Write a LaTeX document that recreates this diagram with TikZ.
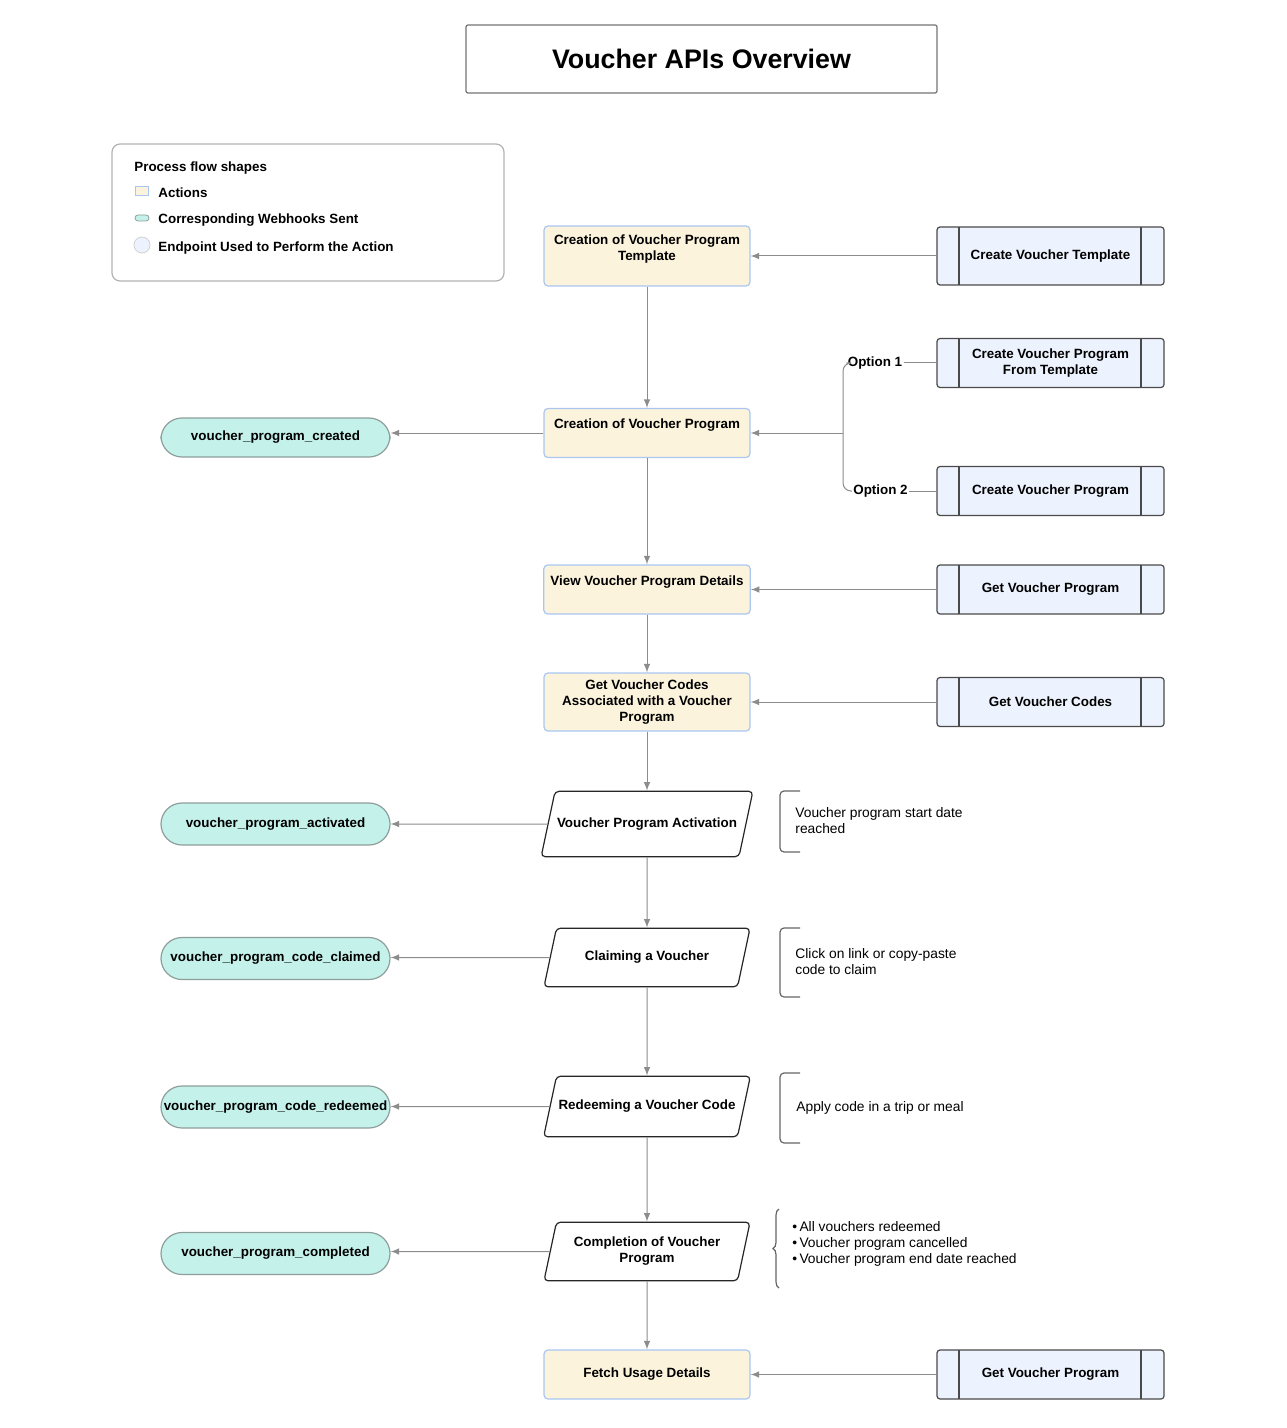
\documentclass[tikz,border=0pt]{standalone}
\usepackage{fontspec}
\setmainfont{Liberation Sans}
\usepackage{tikz}
\tikzset{>=latex}
\usetikzlibrary{shapes.geometric, decorations.pathreplacing}
\definecolor{actionfill}{HTML}{FBF3DC}
\definecolor{actionline}{HTML}{A9C7F2}
\definecolor{hookfill}{HTML}{C4F1EA}
\definecolor{hookline}{HTML}{8E9E9B}
\definecolor{epfill}{HTML}{EDF3FE}
\definecolor{epline}{HTML}{4A4A4A}
\definecolor{wire}{HTML}{8C8C8C}
\newcommand{\boxfont}{\fontsize{6.7}{8}\selectfont\bfseries}
\newcommand{\notefont}{\fontsize{6.9}{8}\selectfont}
\tikzset{
	action/.style = {draw=actionline, fill=actionfill, line width=0.6, rounded corners=2pt, minimum width=103pt, minimum height=24.5pt, align=center, font=\boxfont},
	event/.style = {draw=black!85, fill=white, line width=0.6, trapezium, trapezium left angle=78, trapezium right angle=102, trapezium stretches body=true, rounded corners=2pt, minimum width=103pt, inner xsep=1pt, inner ysep=11.5pt, align=center, font=\boxfont},
	webhook/.style = {draw=hookline, fill=hookfill, line width=0.6, rounded corners=10.5pt, minimum width=114.5pt, minimum height=21pt, inner xsep=1pt, font=\boxfont},
	endpoint/.style = {draw=epline, fill=epfill, line width=0.6, rounded corners=1.5pt, minimum width=113.5pt, minimum height=24.5pt, align=center, font=\boxfont,
		path picture={\draw[epline, line width=0.6] ([xshift=11pt]path picture bounding box.north west) -- ([xshift=11pt]path picture bounding box.south west) ([xshift=-11.5pt]path picture bounding box.north east) -- ([xshift=-11.5pt]path picture bounding box.south east);}},
	wire/.style = {draw=wire, line width=0.5},
	bracket/.style = {draw=black!60, line width=0.6, rounded corners=2pt},
	curly/.style = {draw=black!60, line width=0.6, decorate, decoration={brace, amplitude=3pt}},
	note/.style = {anchor=west, align=left, font=\notefont, inner sep=0pt}
}

\begin{document}
\begin{tikzpicture}[x=0.5pt, y=-0.5pt]
		\useasboundingbox (0,0) rectangle (1286,1428);

		% Title
		\node[draw=black!55, line width=0.6, rounded corners=1pt, minimum width=235.5pt, minimum height=34pt, font=\fontsize{13.4}{16}\selectfont\bfseries] (title) at (701.5,59) {Voucher APIs Overview};

		% Legend
		\draw[black!30, line width=0.6, rounded corners=4pt] (112,144) rectangle (504,281);
		\node[anchor=west, inner sep=0pt, font=\boxfont] (legendhead) at (134,168) {Process flow shapes};
		\draw[actionline, fill=actionfill, line width=0.4] (135,186) rectangle (148,195);
		\draw[hookline, fill=hookfill, line width=0.4, rounded corners=1.5pt] (135,215) rectangle (149,221);
		\draw[epline!25, fill=epfill, line width=0.4] (142,245) circle (4pt);
		\node[anchor=west, inner sep=0pt, font=\boxfont] (legendaction) at (158,193) {Actions};
		\node[anchor=west, inner sep=0pt, font=\boxfont] (legendhook) at (158,220) {Corresponding Webhooks Sent};
		\node[anchor=west, inner sep=0pt, font=\boxfont] (legendep) at (158,248) {Endpoint Used to Perform the Action};

		% Main flow
		\node[action, minimum height=30pt, text depth=8.4pt] (template) at (647,256) {Creation of Voucher Program\\Template};
		\node[action, text depth=9pt] (program) at (647,433) {Creation of Voucher Program};
		\node[action, text depth=9pt] (details) at (647,589.5) {View Voucher Program Details};
		\node[action, minimum height=29pt] (codes) at (647,702) {Get Voucher Codes\\Associated with a Voucher\\Program};
		\node[event, inner ysep=13.2pt] (activation) at (647,824) {Voucher Program Activation};
		\node[event] (claiming) at (647,957.5) {Claiming a Voucher};
		\node[event, inner ysep=12pt] (redeeming) at (647,1106.5) {Redeeming a Voucher Code};
		\node[event, inner ysep=7.5pt] (completion) at (647,1251.5) {Completion of Voucher\\Program};
		\node[action] (usage) at (647,1374.5) {Fetch Usage Details};

		\draw[wire, ->] (template) -- (program);
		\draw[wire, ->] (program) -- (details);
		\draw[wire, ->] (details) -- (codes);
		\draw[wire, ->] (codes) -- (activation);
		\draw[wire, ->] (activation) -- (claiming);
		\draw[wire, ->] (claiming) -- (redeeming);
		\draw[wire, ->] (redeeming) -- (completion);
		\draw[wire, ->] (completion) -- (usage);

		% Endpoints
		\node[endpoint, minimum height=29pt] (epTemplate) at (1050.5,256) {Create Voucher Template};
		\node[endpoint] (epFromTemplate) at (1050.5,363) {Create Voucher Program\\From Template};
		\node[endpoint] (epProgram) at (1050.5,491) {Create Voucher Program};
		\node[endpoint] (epDetails) at (1050.5,589.5) {Get Voucher Program};
		\node[endpoint] (epCodes) at (1050.5,702) {Get Voucher Codes};
		\node[endpoint] (epUsage) at (1050.5,1374.5) {Get Voucher Program};

		\draw[wire, ->] (epTemplate) -- (template);
		\draw[wire, ->] (epDetails) -- (details);
		\draw[wire, ->] (epCodes) -- (codes);
		\draw[wire, ->] (epUsage) -- (usage);

		% Options
		\coordinate (fork) at (843,433);
		\node[inner sep=0.5pt, font=\boxfont] (option1) at (875,363) {Option 1};
		\node[inner sep=0.5pt, font=\boxfont] (option2) at (880.5,491) {Option 2};
		\draw[wire, rounded corners=4pt] (option1.west) -| (fork) |- (option2.west);
		\draw[wire] (option1) -- (epFromTemplate);
		\draw[wire] (option2) -- (epProgram);
		\draw[wire, ->] (fork) -- (program);

		% Webhooks
		\node[webhook, minimum height=19.5pt] (created) at (275.5,437.5) {voucher\_program\_created};
		\node[webhook] (activated) at (275.5,824) {voucher\_program\_activated};
		\node[webhook] (claimed) at (275.5,958.5) {voucher\_program\_code\_claimed};
		\node[webhook] (redeemed) at (275.5,1107) {voucher\_program\_code\_redeemed};
		\node[webhook] (completed) at (275.5,1253.5) {voucher\_program\_completed};

		\draw[wire, ->] (program) -- (program -| created.east);
		\draw[wire, ->] (activation) -- (activation -| activated.east);
		\draw[wire, ->] (claiming) -- (claiming -| claimed.east);
		\draw[wire, ->] (redeeming) -- (redeeming -| redeemed.east);
		\draw[wire, ->] (completion) -- (completion -| completed.east);

		% Notes
		\draw[bracket] (800,791) -- (780,791) -- (780,852) -- (800,852);
		\node[note] (startnote) at (795,821) {Voucher program start date\\reached};
		\draw[bracket] (800,928) -- (780,928) -- (780,997) -- (800,997);
		\node[note] (claimnote) at (795,962) {Click on link or copy-paste\\code to claim};
		\draw[bracket] (800,1073) -- (780,1073) -- (780,1143) -- (800,1143);
		\node[note] (applynote) at (796,1108) {Apply code in a trip or meal};
		\draw[curly] (779,1288) -- (779,1209);
		\node[note] (endnote) at (792,1244) {\textbullet\,All vouchers redeemed\\\textbullet\,Voucher program cancelled\\\textbullet\,Voucher program end date reached};
	\end{tikzpicture}
\end{document}
